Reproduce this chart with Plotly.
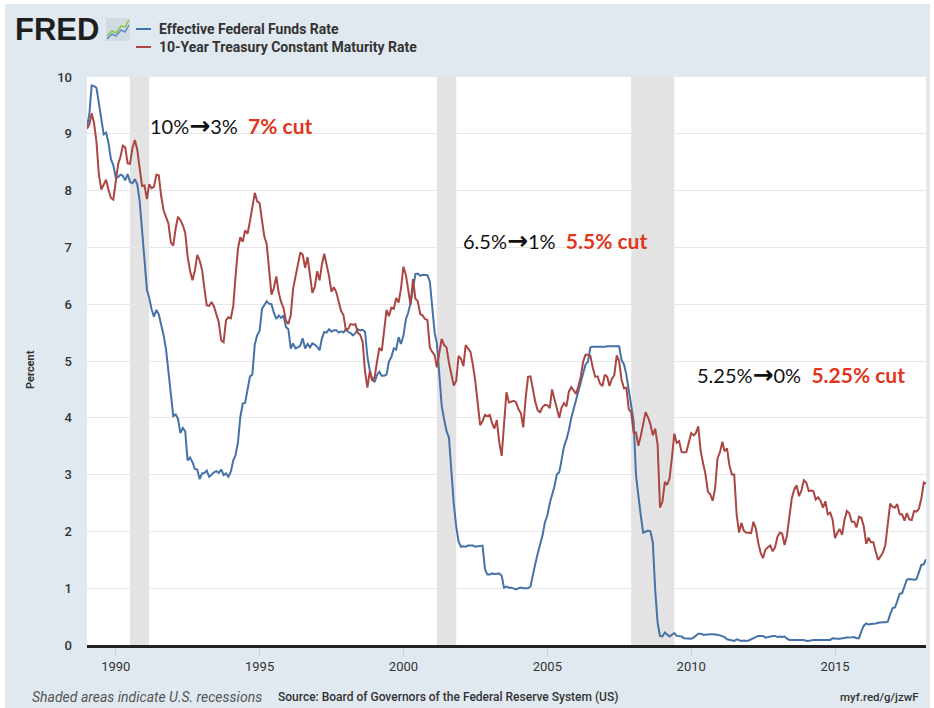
import pandas as pd
import plotly.graph_objects as go

# ---------------- data (monthly, Jan 1989 - Mar 2018) ----------------
fed_funds = [
    9.12, 9.36, 9.85, 9.84, 9.81, 9.53, 9.24, 8.99, 9.02, 8.84, 8.55, 8.45,  # 1989
    8.23, 8.24, 8.28, 8.26, 8.18, 8.29, 8.15, 8.13, 8.20, 8.11, 7.81, 7.31,  # 1990
    6.91, 6.25, 6.12, 5.91, 5.78, 5.90, 5.82, 5.66, 5.45, 5.21, 4.81, 4.43,  # 1991
    4.03, 4.06, 3.98, 3.73, 3.82, 3.76, 3.25, 3.30, 3.22, 3.10, 3.09, 2.92,  # 1992
    3.02, 3.03, 3.07, 2.96, 3.00, 3.04, 3.06, 3.03, 3.09, 2.99, 3.02, 2.96,  # 1993
    3.05, 3.25, 3.34, 3.56, 4.01, 4.25, 4.26, 4.47, 4.73, 4.76, 5.29, 5.45,  # 1994
    5.53, 5.92, 5.98, 6.05, 6.01, 6.00, 5.85, 5.74, 5.80, 5.76, 5.80, 5.60,  # 1995
    5.56, 5.22, 5.31, 5.22, 5.24, 5.27, 5.40, 5.22, 5.30, 5.24, 5.31, 5.29,  # 1996
    5.25, 5.19, 5.39, 5.51, 5.50, 5.56, 5.52, 5.54, 5.54, 5.50, 5.52, 5.50,  # 1997
    5.56, 5.51, 5.49, 5.45, 5.49, 5.56, 5.54, 5.55, 5.51, 5.07, 4.83, 4.68,  # 1998
    4.63, 4.76, 4.81, 4.74, 4.74, 4.76, 4.99, 5.07, 5.22, 5.20, 5.42, 5.30,  # 1999
    5.45, 5.73, 5.85, 6.02, 6.27, 6.53, 6.54, 6.50, 6.52, 6.51, 6.51, 6.40,  # 2000
    5.98, 5.49, 5.31, 4.80, 4.21, 3.97, 3.77, 3.65, 3.07, 2.49, 2.09, 1.82,  # 2001
    1.73, 1.74, 1.73, 1.75, 1.75, 1.75, 1.73, 1.74, 1.75, 1.75, 1.34, 1.24,  # 2002
    1.24, 1.26, 1.25, 1.26, 1.26, 1.22, 1.01, 1.03, 1.01, 1.01, 1.00, 0.98,  # 2003
    1.00, 1.01, 1.00, 1.00, 1.00, 1.03, 1.26, 1.43, 1.61, 1.76, 1.93, 2.16,  # 2004
    2.28, 2.50, 2.63, 2.79, 3.00, 3.04, 3.26, 3.50, 3.62, 3.78, 4.00, 4.16,  # 2005
    4.29, 4.49, 4.59, 4.79, 4.94, 4.99, 5.24, 5.25, 5.25, 5.25, 5.25, 5.24,  # 2006
    5.25, 5.26, 5.26, 5.25, 5.25, 5.25, 5.26, 5.02, 4.94, 4.76, 4.49, 4.24,  # 2007
    3.94, 2.98, 2.61, 2.28, 1.98, 2.00, 2.01, 2.00, 1.81, 0.97, 0.39, 0.16,  # 2008
    0.15, 0.22, 0.18, 0.15, 0.18, 0.21, 0.16, 0.16, 0.15, 0.12, 0.12, 0.12,  # 2009
    0.11, 0.13, 0.16, 0.20, 0.20, 0.18, 0.18, 0.19, 0.19, 0.19, 0.19, 0.18,  # 2010
    0.17, 0.16, 0.14, 0.10, 0.09, 0.09, 0.07, 0.10, 0.08, 0.07, 0.08, 0.07,  # 2011
    0.08, 0.10, 0.13, 0.14, 0.16, 0.16, 0.16, 0.13, 0.14, 0.16, 0.16, 0.16,  # 2012
    0.14, 0.15, 0.14, 0.15, 0.11, 0.09, 0.09, 0.08, 0.08, 0.09, 0.08, 0.09,  # 2013
    0.07, 0.07, 0.08, 0.09, 0.09, 0.10, 0.09, 0.09, 0.09, 0.09, 0.09, 0.12,  # 2014
    0.11, 0.11, 0.11, 0.12, 0.12, 0.13, 0.13, 0.14, 0.14, 0.12, 0.12, 0.24,  # 2015
    0.34, 0.38, 0.36, 0.37, 0.37, 0.38, 0.39, 0.40, 0.40, 0.40, 0.41, 0.54,  # 2016
    0.65, 0.66, 0.79, 0.90, 0.91, 1.04, 1.15, 1.16, 1.15, 1.15, 1.16, 1.30,  # 2017
    1.41, 1.42, 1.51,                                                        # 2018
]

treasury_10y = [
    9.09, 9.17, 9.36, 9.18, 8.86, 8.28, 8.02, 8.11, 8.19, 8.01, 7.87, 7.84,  # 1989
    8.21, 8.47, 8.59, 8.79, 8.76, 8.48, 8.47, 8.75, 8.89, 8.72, 8.39, 8.08,  # 1990
    8.09, 7.85, 8.11, 8.04, 8.07, 8.28, 8.27, 7.90, 7.65, 7.53, 7.42, 7.09,  # 1991
    7.03, 7.34, 7.54, 7.48, 7.39, 7.26, 6.84, 6.59, 6.42, 6.59, 6.87, 6.77,  # 1992
    6.60, 6.26, 5.98, 5.97, 6.04, 5.96, 5.81, 5.68, 5.36, 5.33, 5.72, 5.77,  # 1993
    5.75, 5.97, 6.48, 6.97, 7.18, 7.10, 7.30, 7.24, 7.46, 7.74, 7.96, 7.81,  # 1994
    7.78, 7.47, 7.20, 7.06, 6.63, 6.17, 6.28, 6.49, 6.20, 6.04, 5.93, 5.71,  # 1995
    5.65, 5.81, 6.27, 6.51, 6.74, 6.91, 6.87, 6.64, 6.83, 6.53, 6.20, 6.30,  # 1996
    6.58, 6.42, 6.69, 6.89, 6.71, 6.49, 6.22, 6.30, 6.21, 6.03, 5.88, 5.81,  # 1997
    5.54, 5.57, 5.65, 5.64, 5.65, 5.50, 5.46, 5.34, 4.81, 4.53, 4.83, 4.65,  # 1998
    4.72, 5.00, 5.23, 5.18, 5.54, 5.90, 5.79, 5.94, 5.92, 6.11, 6.03, 6.28,  # 1999
    6.66, 6.52, 6.26, 5.99, 6.44, 6.10, 6.05, 5.83, 5.80, 5.74, 5.72, 5.24,  # 2000
    5.16, 5.10, 4.89, 5.14, 5.39, 5.28, 5.24, 4.97, 4.73, 4.57, 4.65, 5.09,  # 2001
    5.04, 4.91, 5.28, 5.21, 5.16, 4.93, 4.65, 4.26, 3.87, 3.94, 4.05, 4.03,  # 2002
    4.05, 3.90, 3.81, 3.96, 3.57, 3.33, 3.98, 4.45, 4.27, 4.29, 4.30, 4.27,  # 2003
    4.15, 4.08, 3.83, 4.35, 4.72, 4.73, 4.50, 4.28, 4.13, 4.10, 4.19, 4.23,  # 2004
    4.22, 4.17, 4.50, 4.34, 4.14, 4.00, 4.18, 4.26, 4.20, 4.46, 4.54, 4.47,  # 2005
    4.42, 4.57, 4.72, 4.99, 5.11, 5.11, 5.09, 4.88, 4.72, 4.73, 4.60, 4.56,  # 2006
    4.76, 4.72, 4.56, 4.69, 4.75, 5.10, 5.00, 4.67, 4.52, 4.53, 4.15, 4.10,  # 2007
    3.74, 3.74, 3.51, 3.68, 3.88, 4.10, 4.01, 3.89, 3.69, 3.81, 3.53, 2.42,  # 2008
    2.52, 2.87, 2.82, 2.93, 3.29, 3.72, 3.56, 3.59, 3.40, 3.39, 3.40, 3.59,  # 2009
    3.73, 3.69, 3.73, 3.85, 3.42, 3.20, 3.01, 2.70, 2.65, 2.54, 2.76, 3.29,  # 2010
    3.39, 3.58, 3.41, 3.46, 3.17, 3.00, 3.00, 2.30, 1.98, 2.15, 2.01, 1.98,  # 2011
    1.97, 1.97, 2.17, 2.05, 1.80, 1.62, 1.53, 1.68, 1.72, 1.75, 1.65, 1.72,  # 2012
    1.91, 1.98, 1.96, 1.76, 1.93, 2.30, 2.58, 2.74, 2.81, 2.62, 2.72, 2.90,  # 2013
    2.86, 2.71, 2.72, 2.71, 2.56, 2.60, 2.54, 2.42, 2.53, 2.30, 2.33, 2.21,  # 2014
    1.88, 1.98, 2.04, 1.94, 2.20, 2.36, 2.32, 2.17, 2.17, 2.07, 2.26, 2.24,  # 2015
    2.09, 1.78, 1.89, 1.81, 1.81, 1.64, 1.50, 1.56, 1.63, 1.76, 2.14, 2.49,  # 2016
    2.43, 2.42, 2.48, 2.30, 2.30, 2.19, 2.32, 2.21, 2.20, 2.36, 2.35, 2.40,  # 2017
    2.58, 2.86, 2.84,                                                        # 2018
]

start_month = "1989-01-01"
series_names = ["Effective Federal Funds Rate", "10-Year Treasury Constant Maturity Rate"]
recession_starts = ["1990-07-01", "2001-03-01", "2007-12-01"]
recession_ends = ["1991-03-01", "2001-11-01", "2009-06-01"]
year_ticks = ["1990-01-01", "1995-01-01", "2000-01-01", "2005-01-01", "2010-01-01", "2015-01-01"]
year_labels = ["1990", "1995", "2000", "2005", "2010", "2015"]
y_ticks = list(range(0, 11))

dates = pd.date_range(start_month, periods=len(fed_funds), freq="MS")
dates10 = pd.date_range(start_month, periods=len(treasury_10y), freq="MS")

# ---------------- styling ----------------
W, H = 934, 708
ML, MR, MT, MB = 87, 8, 77, 63
PW, PH = W - ML - MR, H - MT - MB
BLUE, RED = "#4572a7", "#aa4643"
PANEL = "#e1e9f0"
CUT_RED = "#e0361c"


def px(x):
    return (x - ML) / PW


def py(y):
    return (H - MB - y) / PH


fig = go.Figure()
fig.add_trace(go.Scatter(x=dates, y=fed_funds, mode="lines", name=series_names[0],
                         line=dict(color=BLUE, width=2), showlegend=False))
fig.add_trace(go.Scatter(x=dates10, y=treasury_10y, mode="lines", name=series_names[1],
                         line=dict(color=RED, width=2), showlegend=False))

shapes = []
for s, e in zip(recession_starts, recession_ends):
    shapes.append(dict(type="rect", xref="x", yref="paper", x0=s, x1=e, y0=0, y1=1,
                       fillcolor="#e3e3e3", line=dict(width=0), layer="between"))

# white outer border strips
for (x0, x1, y0, y1) in [(0, 5, 0, H), (0, W, 0, 4), (930, W, 0, H)]:
    shapes.append(dict(type="rect", xref="paper", yref="paper",
                       x0=px(x0), x1=px(x1), y0=py(y1), y1=py(y0),
                       fillcolor="white", line=dict(width=0), layer="above"))

# FRED icon
shapes.append(dict(type="rect", xref="paper", yref="paper",
                   x0=px(106), x1=px(130), y0=py(41), y1=py(18),
                   fillcolor="#d3dbe2", line=dict(width=0)))


def path(points):
    return "M " + " L ".join(f"{px(a)},{py(b)}" for a, b in points)


shapes.append(dict(type="path", xref="paper", yref="paper",
                   path=path([(107, 36), (112, 31), (116, 33), (121, 26), (125, 27), (129, 20)]),
                   line=dict(color="#8cc63f", width=1.5)))
shapes.append(dict(type="path", xref="paper", yref="paper",
                   path=path([(107, 39), (112, 34), (116, 36), (121, 30), (125, 32), (129, 25)]),
                   line=dict(color="#5b8fc7", width=1.5)))

# legend swatches
for yy, col in [(29, BLUE), (47, RED)]:
    shapes.append(dict(type="line", xref="paper", yref="paper",
                       x0=px(136), x1=px(151), y0=py(yy), y1=py(yy),
                       line=dict(color=col, width=2)))

ann = []
ann.append(dict(text="FRED", xref="paper", yref="paper", x=px(13), y=py(30),
                xanchor="left", yanchor="middle", showarrow=False,
                font=dict(family="Liberation Sans", size=31, color="#1e1e1e", weight="bold")))
for yy, name in [(29, series_names[0]), (47, series_names[1])]:
    ann.append(dict(text=name, xref="paper", yref="paper", x=px(157), y=py(yy),
                    xanchor="left", yanchor="middle", showarrow=False,
                    font=dict(family="Roboto", size=14, color="#333333", weight="bold")))

ann.append(dict(text="Percent", xref="paper", yref="paper", x=px(30), y=py(370),
                xanchor="center", yanchor="middle", textangle=-90, showarrow=False,
                font=dict(family="Roboto", size=11, color="#333333", weight="bold")))

cut_texts = [
    ("10%", "3%", "7% cut", 148, 125),
    ("6.5%", "1%", "5.5% cut", 461, 241),
    ("5.25%", "0%", "5.25% cut", 695, 374),
]
for a, z, b, xx, yy in cut_texts:
    ann.append(dict(
        text=(f"{a}<b><span style='font-family:DejaVu Sans;font-size:25px'>\u2192</span></b>{z}"
              f"\u00a0\u00a0<b><span style='color:{CUT_RED};font-size:21px'>{b}</span></b>"),
        xref="paper", yref="paper", x=px(xx), y=py(yy),
        xanchor="left", yanchor="middle", showarrow=False,
        font=dict(family="Lato", size=20, color="#111111")))

ann.append(dict(text="<i>Shaded areas indicate U.S. recessions</i>", xref="paper", yref="paper",
                x=px(30), y=py(697), xanchor="left", yanchor="middle", showarrow=False,
                font=dict(family="Roboto", size=14, color="#555555")))
ann.append(dict(text="Source: Board of Governors of the Federal Reserve System (US)", xref="paper",
                yref="paper", x=px(276), y=py(697), xanchor="left", yanchor="middle",
                showarrow=False, font=dict(family="Roboto", size=12, color="#333333", weight=500)))
ann.append(dict(text="myf.red/g/jzwF", xref="paper", yref="paper",
                x=px(921), y=py(697), xanchor="right", yanchor="middle", showarrow=False,
                font=dict(family="Roboto", size=11.5, color="#333333", weight=500)))

fig.update_layout(
    width=W, height=H,
    margin=dict(l=ML, r=MR, t=MT, b=MB, autoexpand=False),
    paper_bgcolor=PANEL, plot_bgcolor="white",
    shapes=shapes, annotations=ann,
    showlegend=False,
    xaxis=dict(type="date", range=["1989-01-01", "2018-03-01"],
               tickvals=year_ticks, ticktext=year_labels,
               showgrid=False, zeroline=False,
               showline=True, linecolor="#222222", linewidth=2.5,
               ticks="outside", ticklen=8, tickcolor="#c8d2dc", tickwidth=1,
               tickfont=dict(family="Roboto", size=13, color="#333333")),
    yaxis=dict(range=[0, 10], tickvals=y_ticks,
               showgrid=True, gridcolor="#e6e6e6", gridwidth=1,
               zeroline=False, showline=False, ticks="",
               ticklabelstandoff=14,
               tickfont=dict(family="Roboto", size=13, color="#333333", weight=500)),
)

fig.write_html(
    "out.html",
    config={"displayModeBar": False},
    post_script="document.body.style.margin='0';document.body.style.overflow='hidden';",
)
